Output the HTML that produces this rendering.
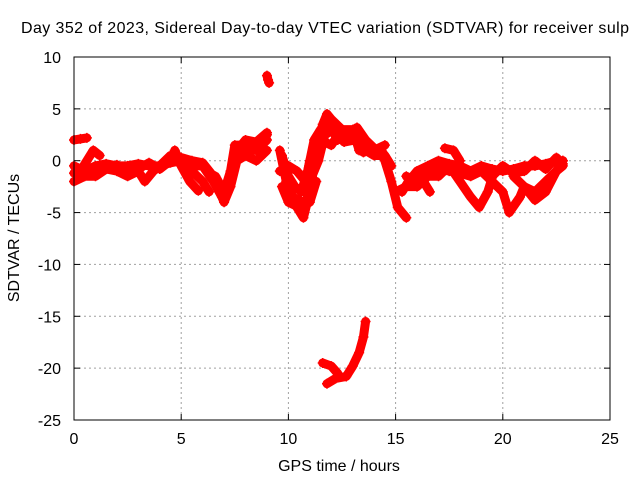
<!DOCTYPE html>
<html><head><meta charset="utf-8"><style>
body{margin:0;background:#fff}
svg text{font-family:"Liberation Sans",Arial,sans-serif;font-size:16px;fill:#000}
</style></head><body>
<svg width="640" height="480">
<text x="21" y="33" textLength="608" lengthAdjust="spacing">Day 352 of 2023, Sidereal Day-to-day VTEC variation (SDTVAR) for receiver sulp</text>
<g id="grid"></g>
<g id="ticks"></g>
<g id="series"></g>
<rect x="74" y="57" width="536" height="363" fill="none" stroke="#000" stroke-width="1"/>
<text x="339" y="471" text-anchor="middle">GPS time / hours</text>
<text transform="translate(19,238) rotate(-90)" text-anchor="middle">SDTVAR / TECUs</text>
</svg>
<script>
const xTicks=[0,5,10,15,20,25];
const yTicks=[10,5,0,-5,-10,-15,-20,-25];
const trackA=[[0,-0.5],[0.5,-1],[1,-0.5],[1.5,-0.3],[2,-0.5],[2.5,-0.5],[3,-0.3],[3.5,-0.5],[4,-0.5],[4.5,-0.2],[5,0],[5.5,-0.5],[6,-0.5],[6.5,-2],[6.9,-3.5],[7.2,-2],[7.5,0.5],[8,1],[8.5,1],[9,2]];
const trackA2=[[0,-1.2],[0.5,-1.3],[1,-1],[1.5,-0.8],[2,-0.4],[2.5,-1],[3,-0.8],[3.5,-0.2],[4,-0.8],[4.5,0],[5,0.3],[5.5,0],[6,-0.2],[6.5,-1.5],[6.8,-3],[7.1,-3.2],[7.4,-1],[7.6,1],[8,2],[8.5,1.8],[9,2.7]];
const trackB=[[0,-2],[0.5,-1.5],[1,-1.5],[1.5,-0.8],[2,-1],[2.5,-1.5],[3,-1],[3.3,-2],[3.7,-1],[4,-0.5],[4.5,0.5],[5,0],[5.5,-1],[6,-2],[6.3,-3]];
const trackB2=[[4.7,1],[5,-0.5],[5.4,-2],[5.8,-2.9]];
const trackC=[[0,2],[0.3,2.1],[0.6,2.2]];
const trackD=[[0.3,-1],[0.6,0],[0.9,1],[1.2,0.5]];
const trackE=[[6.6,-1.5],[7,-3],[7.3,-1],[7.5,1.5],[8,1.5],[8.5,1.5],[9,2.5]];
const trackF=[[6.7,-2.5],[7,-4],[7.3,-2.5],[7.6,0],[8,0.5],[8.5,0],[9,1]];
const trackG=[[9.6,1],[9.8,-1],[10,-3],[10.4,-4.5],[10.7,-5.5],[11,-3],[11.3,1],[11.6,3.5],[11.8,4.5],[12,4],[12.5,3],[13,2.5],[13.5,1.5],[14,1],[14.5,1.5]];
const trackG2=[[9.7,0.5],[10,-1.5],[10.3,-2.5],[10.6,-3],[10.9,-1],[11.2,2],[11.5,3],[11.9,3.5],[12.3,2],[12.7,2.5],[13.2,3.2],[13.6,2],[14,1.2],[14.4,0.8]];
const trackG3=[[9.9,-2],[10.2,-3.5],[10.5,-3.8],[10.8,-4.2],[11.1,-1.5],[11.4,0],[11.7,2.5],[12.1,3],[12.6,1.8],[13.1,2],[13.5,0.8]];
const trackH=[[9.6,-1],[10,-0.5],[10.4,-1],[10.8,-2],[11,0],[11.5,2],[12,1.5],[12.5,3],[13,3],[13.3,1],[13.6,1],[14,0.5],[14.5,0.5],[14.8,-0.5]];
const trackI=[[9.7,-2.5],[10,-4],[10.5,-4.5],[11,-4],[11.3,-2]];
const trackJ=[[14.5,0],[14.8,-2],[15.1,-4.5],[15.5,-5.5]];
const trackK=[[15.3,-3],[15.6,-2],[16,-1],[16.5,-0.5],[17,0],[17.5,-0.3],[18,-0.5],[18.5,-1],[19,-0.5],[19.5,-0.8],[20,-1],[20.5,-0.8],[21,-0.5],[21.5,-0.5],[22,-0.3],[22.5,0],[22.8,0]];
const trackK2=[[15.5,-1.5],[16,-2],[16.5,-1],[17,-0.8],[17.5,-1],[18,-1.2],[18.5,-1.5],[19,-1],[19.5,-1.5],[20,-0.5],[20.5,-1.2],[21,-1],[21.5,0],[22,-0.8],[22.5,0.3],[22.8,-0.3]];
const trackL=[[15,-3],[15.5,-2.5],[16,-2.5],[16.5,-1.5],[17,-1.5],[17.5,-0.5],[18,-2],[18.5,-3.5],[18.9,-4.5],[19.3,-3],[19.6,-1]];
const trackM=[[19,-1],[19.5,-2],[20,-3],[20.3,-5],[20.8,-3.5],[21,-2.5],[21.5,-3],[22,-2],[22.5,-1],[22.8,0]];
const trackN=[[20.5,-1.5],[21,-2.5],[21.5,-3.8],[22,-3],[22.5,-1],[22.8,-0.5]];
const trackO=[[16,-1.5],[16.3,-2],[16.6,-3]];
const trackP=[[17.3,1.2],[17.7,1],[18,0]];
const trackQ=[[11.6,-19.5],[12,-19.8],[12.3,-20.5]];
const trackR=[[11.8,-21.5],[12.2,-21],[12.7,-20.8],[13,-19.8],[13.3,-18.5],[13.5,-17],[13.6,-15.5]];
const trackS=[[9,8.2],[9.05,7.8],[9.1,7.5]];
const tracks=[trackA,trackA2,trackB,trackB2,trackC,trackD,trackE,trackF,trackG,trackG2,trackG3,trackH,trackI,trackJ,trackK,trackK2,trackL,trackM,trackN,trackO,trackP,trackQ,trackR,trackS];
const NS="http://www.w3.org/2000/svg";
const X0=74,X1=610,Y0=420,Y1=57,XMIN=0,XMAX=25,YMIN=-25,YMAX=10;
const sx=t=>X0+(t-XMIN)/(XMAX-XMIN)*(X1-X0);
const sy=v=>Y0-(v-YMIN)/(YMAX-YMIN)*(Y0-Y1);
function mk(tag,attrs,parent){const e=document.createElementNS(NS,tag);for(const k in attrs)e.setAttribute(k,attrs[k]);parent.appendChild(e);return e;}
const grid=document.getElementById('grid'),ticks=document.getElementById('ticks'),ser=document.getElementById('series');
xTicks.forEach(t=>{const x=sx(t);
 if(t>XMIN&&t<XMAX){const l=mk('line',{x1:x,x2:x,y1:Y1,y2:Y0,stroke:'#a0a0a0','stroke-dasharray':'2,3'},grid);}
 mk('line',{x1:x,x2:x,y1:Y0,y2:Y0-6,stroke:'#000'},ticks);mk('line',{x1:x,x2:x,y1:Y1,y2:Y1+6,stroke:'#000'},ticks);
 const tx=mk('text',{x:x,y:Y0+24,'text-anchor':'middle'},ticks);tx.textContent=t;
 
 });
yTicks.forEach(v=>{const y=sy(v);
 if(v>YMIN&&v<YMAX){const l=mk('line',{x1:X0,x2:X1,y1:y,y2:y,stroke:'#a0a0a0','stroke-dasharray':'2,3'},grid);}
 mk('line',{x1:X0,x2:X0+6,y1:y,y2:y,stroke:'#000'},ticks);mk('line',{x1:X1,x2:X1-6,y1:y,y2:y,stroke:'#000'},ticks);
 const tx=mk('text',{x:X0-13,y:y+6,'text-anchor':'end'},ticks);tx.textContent=v;
 
 });
tracks.forEach((tr,i)=>{
 const pl=mk('polyline',{points:tr.map(p=>sx(p[0])+','+sy(p[1])).join(' '),fill:'none',stroke:'#ff0000','stroke-width':9,'stroke-linejoin':'round','stroke-linecap':'round'},ser);
 
 
 tr.forEach(p=>{const x=sx(p[0]),y=sy(p[1]);
  const m=mk('path',{d:`M${x-5},${y}H${x+5}M${x},${y-5}V${y+5}`,stroke:'#ff0000','stroke-width':1.5},ser);
  
  });
});
</script>
</body></html>
